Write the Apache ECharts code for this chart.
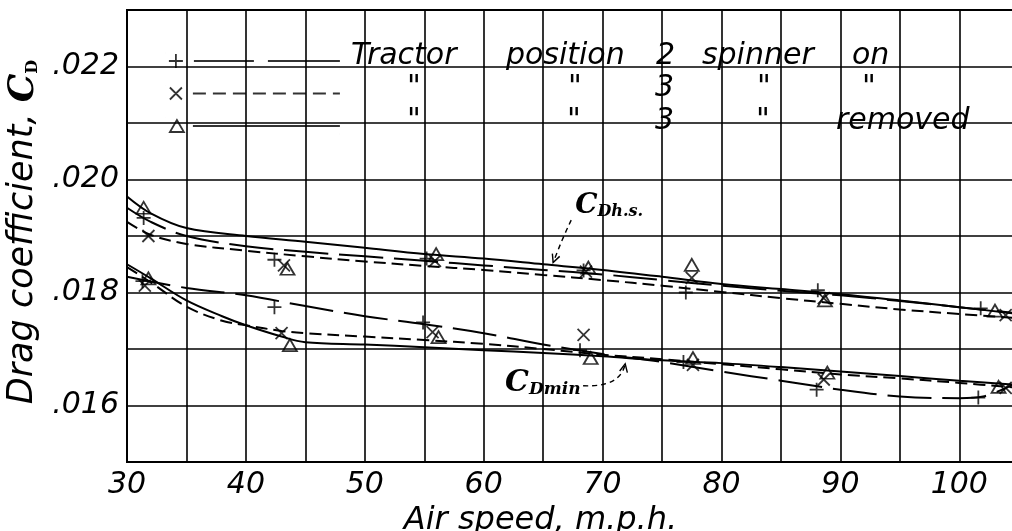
<!DOCTYPE html>
<html><head><meta charset="utf-8">
<script src="https://cdn.jsdelivr.net/npm/echarts@6/dist/echarts.min.js"></script>
<style>html,body{margin:0;padding:0;background:#fff}#c{width:1012px;height:531px}</style>
</head><body><div id="c"></div>
<script>
// ---------- data ----------
const seriesNames = ['Tractor position 2 spinner on', 'Tractor position 3 spinner on', 'Tractor position 3 spinner removed'];

// measured points (markers)
const pos2OnHsX  = [31.4, 42.4, 55.2, 68.4, 77.0, 88.1, 101.8];
const pos2OnHsY  = [0.01932, 0.01858, 0.0186, 0.01839, 0.0180, 0.01804, 0.01772];
const pos2OnMinX = [31.3, 42.4, 54.9, 68.1, 76.8, 88.0, 101.6];
const pos2OnMinY = [0.0182, 0.01774, 0.01747, 0.01698, 0.01677, 0.01628, 0.01614];
const pos3OnHsX  = [31.8, 43.2, 55.9, 68.6, 77.5, 88.6, 103.9];
const pos3OnHsY  = [0.0190, 0.01848, 0.01856, 0.01837, 0.01826, 0.0179, 0.0176];
const pos3OnMinX = [31.5, 43.0, 55.7, 68.4, 77.6, 88.6, 103.9];
const pos3OnMinY = [0.01812, 0.01728, 0.0173, 0.01725, 0.01672, 0.01646, 0.01631];
const pos3OffHsX  = [31.4, 43.5, 56.0, 68.8, 77.5, 88.7, 103.0];
const pos3OffHsY  = [0.0195, 0.01842, 0.01868, 0.01844, 0.01849, 0.01786, 0.01768];
const pos3OffMinX = [31.8, 43.7, 56.2, 69.0, 77.6, 88.9, 103.3];
const pos3OffMinY = [0.01825, 0.01707, 0.01721, 0.01684, 0.01684, 0.01658, 0.01633];

// faired curves
const hsCurveX = [30, 32, 35, 40, 45, 50, 55, 60, 65, 70, 75, 80, 85, 90, 95, 100, 104.6];
const pos2OnHsCurve  = [0.0195, 0.01925, 0.0190, 0.01882, 0.01872, 0.01864, 0.01856, 0.01848, 0.0184, 0.01832, 0.01822, 0.01812, 0.01803, 0.01795, 0.01785, 0.01774, 0.01764];
const pos3OnHsCurve  = [0.01925, 0.01902, 0.01886, 0.01874, 0.01864, 0.01855, 0.01847, 0.0184, 0.01831, 0.01822, 0.01812, 0.01801, 0.0179, 0.0178, 0.0177, 0.01762, 0.01755];
const pos3OffHsCurve = [0.0197, 0.0194, 0.01914, 0.0190, 0.0189, 0.01879, 0.01868, 0.0186, 0.0185, 0.0184, 0.01828, 0.01815, 0.01806, 0.01797, 0.01786, 0.01774, 0.01763];

const pos2OnMinCurveX = [30, 35, 40, 45, 50, 55, 60, 65, 70, 75, 80, 85, 90, 95, 100, 102, 104.6];
const pos2OnMinCurve  = [0.01828, 0.01808, 0.01795, 0.01776, 0.01758, 0.01744, 0.01728, 0.01708, 0.01691, 0.01677, 0.0166, 0.01644, 0.01628, 0.01616, 0.01613, 0.01616, 0.01638];
const minCurveX = [30, 32, 35, 38, 40, 43, 45, 50, 55, 60, 65, 70, 75, 80, 85, 90, 95, 100, 104.6];
const pos3OnMinCurve  = [0.01845, 0.01818, 0.01775, 0.0175, 0.01742, 0.01732, 0.01728, 0.01722, 0.01716, 0.01709, 0.017, 0.0169, 0.01682, 0.01673, 0.01664, 0.01655, 0.01648, 0.0164, 0.01632];
const pos3OffMinCurve = [0.0185, 0.01825, 0.01786, 0.01758, 0.01742, 0.01722, 0.01712, 0.01708, 0.01703, 0.01698, 0.01693, 0.01687, 0.0168, 0.01675, 0.01668, 0.0166, 0.01652, 0.01644, 0.01637];

// legend words (with ditto marks)
const legendRows = [
  ['Tractor', 'position', '2', 'spinner', 'on'],
  ['"', '"', '3', '"', '"'],
  ['"', '"', '3', '"', 'removed']
];

// annotations (data coordinates)
const hsLabelAt = [67.69, 0.01953];
const hsArrow = [[67.36, 0.01928], [66.6, 0.01895], [65.84, 0.01853]];
const minLabelAt = [61.8, 0.01640];
const minArrow = [[68.36, 0.01635], [71.48, 0.016316], [71.9, 0.016737]];

// ---------- layout / style ----------
const FONT = 'DejaVu Sans';
const SERIF = 'DejaVu Serif';
const legendWordLeft = [[345, 500, 650, 696, 846], [401, 562, 649, 751, 856], [401, 561, 649, 750, 830]];
const LEGEND_LEFT = 160, ICON_W = 174, TEXT_START = LEGEND_LEFT + ICON_W + 5;

const pair = (xs, ys) => xs.map((x, i) => [x, ys[i]]);
const symPlus = 'path://M7 0V14M0 7H14';
const symCross = 'path://M0 0L12 12M12 0L0 12';
const symTri = 'path://M7 0L14 12H0Z';
const corner = 'M0 0L0.01 0M174 16L173.99 16';
const legendIcons = [
  'path://' + corner + 'M10 1V15M3 8H17M28 8H88M102 8H174',
  'path://' + corner + 'M4 2L16 14M16 2L4 14M27 8H40M47 8H60M67 8H80M87 8H100M107 8H120M127 8H140M147 8H160M167 8H174',
  'path://' + corner + 'M11 2L18 14H4ZM27 8H174'
];

const baseText = { fontFamily: FONT, fontStyle: 'italic', fontSize: 30, color: '#000', lineHeight: 23 };
const rich = {};
const legendLabels = legendRows.map((words, r) => {
  const lefts = legendWordLeft[r];
  rich['r' + r + 'sp'] = Object.assign({}, baseText, { width: lefts[0] - TEXT_START });
  let s = '{r' + r + 'sp| }';
  words.forEach((w, k) => {
    const key = 'r' + r + 'w' + k;
    const st = Object.assign({}, baseText, { align: 'left' });
    if (k < words.length - 1) st.width = lefts[k + 1] - lefts[k];
    rich[key] = st;
    s += '{' + key + '|' + w + '}';
  });
  return s;
});

const markerStyle = { color: 'rgba(0,0,0,0)', borderColor: '#000', borderWidth: 1.8 };
const markers = [
  { data: pair(pos2OnHsX, pos2OnHsY).concat(pair(pos2OnMinX, pos2OnMinY)), symbol: symPlus, symbolSize: 14 },
  { data: pair(pos3OnHsX, pos3OnHsY).concat(pair(pos3OnMinX, pos3OnMinY)), symbol: symCross, symbolSize: 12 },
  { data: pair(pos3OffHsX, pos3OffHsY).concat(pair(pos3OffMinX, pos3OffMinY)), symbol: symTri, symbolSize: [14, 12] }
];
const dashTypes = [[44, 11], [12, 6], 'solid'];
const curves = [
  [pair(hsCurveX, pos2OnHsCurve), pair(pos2OnMinCurveX, pos2OnMinCurve)],
  [pair(hsCurveX, pos3OnHsCurve), pair(minCurveX, pos3OnMinCurve)],
  [pair(hsCurveX, pos3OffHsCurve), pair(minCurveX, pos3OffMinCurve)]
];

const series = [];
seriesNames.forEach((name, i) => {
  series.push({
    name, type: 'scatter', data: markers[i].data, symbol: markers[i].symbol,
    symbolSize: markers[i].symbolSize, itemStyle: markerStyle, z: 4, silent: true
  });
  curves[i].forEach(c => series.push({
    name, type: 'line', data: c, smooth: 0.35, symbol: 'none', z: 3, silent: true,
    lineStyle: { color: '#000', width: 2, type: dashTypes[i] }
  }));
});

const axisFont = { fontFamily: FONT, fontStyle: 'italic', fontSize: 30, color: '#000' };

const option = {
  animation: false,
  backgroundColor: '#fff',
  grid: { left: 127, right: -2, top: 10, bottom: 69, show: true, borderColor: '#000', borderWidth: 2,
          backgroundColor: 'transparent', outerBoundsMode: 'none', containLabel: false },
  legend: {
    orient: 'vertical', left: LEGEND_LEFT, top: 36, itemWidth: ICON_W, itemHeight: 16, itemGap: -4,
    selectedMode: false,
    data: seriesNames.map((n, i) => ({ name: n, icon: legendIcons[i] })),
    itemStyle: { color: 'rgba(0,0,0,0)', borderColor: '#000', borderWidth: 1.8 },
    textStyle: Object.assign({}, baseText, { padding: [0, 0, 10, 0], rich }),
    formatter: name => legendLabels[seriesNames.indexOf(name)]
  },
  xAxis: {
    type: 'value', min: 30, max: 104.6, interval: 5,
    axisLine: { show: true, lineStyle: { color: '#000', width: 2 } },
    axisTick: { show: false },
    splitLine: { show: true, lineStyle: { color: '#000', width: 1.6 } },
    axisLabel: Object.assign({ margin: 8, formatter: v => (Math.abs(v % 10) < 1e-6 ? String(v) : '') }, axisFont),
    name: 'Air speed, m.p.h.', nameLocation: 'middle', nameGap: 38,
    nameTextStyle: Object.assign({}, axisFont, { fontSize: 32, padding: [0, 60, 0, 0] })
  },
  yAxis: {
    type: 'value', min: 0.015, max: 0.023, interval: 0.001,
    axisLine: { show: true, lineStyle: { color: '#000', width: 2 } },
    axisTick: { show: false },
    splitLine: { show: true, lineStyle: { color: '#000', width: 1.6 } },
    axisLabel: Object.assign({
      margin: 8,
      formatter: v => { const n = Math.round(v * 1000); return (n % 2 === 0 && n >= 16 && n <= 22) ? '.0' + n : ''; }
    }, axisFont),
    name: '{a|Drag coefficient, }{c|C}{d|D}', nameLocation: 'middle', nameGap: 85,
    nameTextStyle: {
      padding: [0, 0, 0, 8],
      rich: {
        a: { fontFamily: FONT, fontStyle: 'italic', fontSize: 35, color: '#000' },
        c: { fontFamily: SERIF, fontStyle: 'italic', fontWeight: 'bold', fontSize: 36, color: '#000' },
        d: { fontFamily: SERIF, fontWeight: 'bold', fontSize: 16, color: '#000', verticalAlign: 'bottom' }
      }
    }
  },
  series
};

const chart = echarts.init(document.getElementById('c'), null, { renderer: 'canvas' });
chart.setOption(option);

// ---------- annotations ----------
const px = p => chart.convertToPixel({ gridIndex: 0 }, p);
function arrow(pts) {
  const a = px(pts[0]), c = px(pts[1]), b = px(pts[2]);
  const ang = Math.atan2(b[1] - c[1], b[0] - c[0]);
  const L = 9, sp = 0.45;
  const h1 = [b[0] - L * Math.cos(ang - sp), b[1] - L * Math.sin(ang - sp)];
  const h2 = [b[0] - L * Math.cos(ang + sp), b[1] - L * Math.sin(ang + sp)];
  return [
    { type: 'bezierCurve', shape: { x1: a[0], y1: a[1], cpx1: c[0], cpy1: c[1], x2: b[0], y2: b[1] },
      style: { stroke: '#000', lineWidth: 1.4, lineDash: [5, 4], fill: null }, z: 10 },
    { type: 'polyline', shape: { points: [h1, b, h2] }, style: { stroke: '#000', lineWidth: 1.4, fill: null }, z: 10 }
  ];
}
const hsP = px(hsLabelAt), minP = px(minLabelAt);
const cStyle = (size) => ({ fontFamily: SERIF, fontStyle: 'italic', fontWeight: 'bold', fontSize: size, fill: '#000' });
chart.setOption({
  graphic: [
    { type: 'text', x: hsP[0], y: hsP[1], z: 10,
      style: { text: '{c|C}{s|Dh.s.}', verticalAlign: 'middle', fill: '#000',
        rich: { c: cStyle(28), s: Object.assign(cStyle(16), { verticalAlign: 'bottom' }) } } },
    { type: 'text', x: minP[0], y: minP[1], z: 10,
      style: { text: '{c|C}{s|Dmin}', verticalAlign: 'middle', fill: '#000',
        rich: { c: cStyle(30), s: Object.assign(cStyle(17), { verticalAlign: 'bottom' }) } } }
  ].concat(arrow(hsArrow), arrow(minArrow))
});
</script></body></html>
